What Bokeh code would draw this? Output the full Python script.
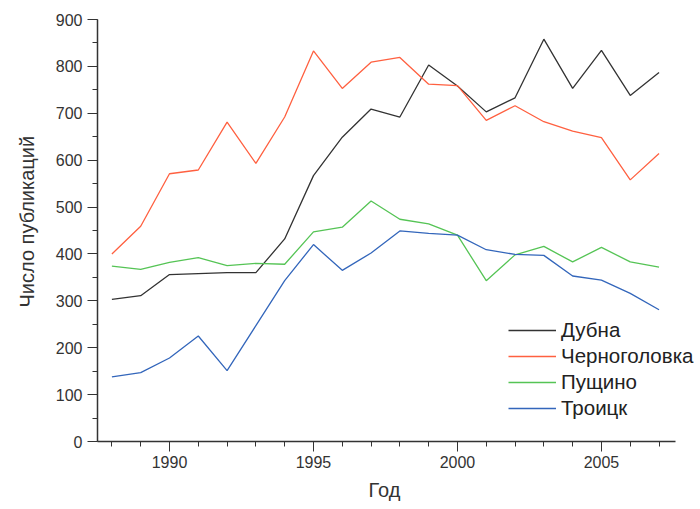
from bokeh.plotting import figure
from bokeh.models import Range1d, Legend, LegendItem, FixedTicker, Title
from bokeh.embed import file_html
from bokeh.resources import INLINE

years = list(range(1988, 2008))
dubna = [303, 311, 356, 358, 360, 360, 432, 567, 649, 709,
         692, 803, 758, 703, 733, 858, 753, 834, 738, 787]
chernogolovka = [400, 459, 571, 579, 681, 593, 692, 833, 753, 809,
                 819, 762, 759, 685, 716, 682, 662, 648, 558, 614]
pushchino = [374, 367, 382, 392, 375, 380, 378, 447, 457, 513,
             474, 464, 440, 343, 398, 416, 383, 414, 383, 372]
troitsk = [138, 147, 178, 225, 151, 247, 343, 420, 365, 402,
           449, 444, 440, 409, 399, 397, 353, 344, 316, 281]

names = ["Дубна", "Черноголовка", "Пущино", "Троицк"]
colors = ["#333333", "#FF6040", "#55C455", "#3366BB"]
series = [dubna, chernogolovka, pushchino, troitsk]

x_ticks = [1990, 1995, 2000, 2005]
y_ticks = [0, 100, 200, 300, 400, 500, 600, 700, 800, 900]

FONT = "Liberation Sans"
INK = "#333333"

# the frame runs to the right edge so the legend text is not clipped;
# the x axis itself stops just after 2007
p = figure(width=700, height=509, output_backend="svg", toolbar_location=None,
           x_range=Range1d(1987.5, 2008.44), y_range=Range1d(0, 900),
           min_border_left=97, min_border_right=0, min_border_top=19,
           min_border_bottom=68, outline_line_color=None,
           background_fill_color="white", border_fill_color="white")
p.grid.visible = False

renderers = []
for vals, col in zip(series, colors):
    r = p.line(years, vals, line_color=col, line_width=1.3)
    renderers.append(r)

for ax in (p.xaxis[0], p.yaxis[0]):
    ax.axis_line_color = INK
    ax.axis_line_width = 1.5
    ax.major_tick_line_color = INK
    ax.minor_tick_line_color = INK
    ax.major_tick_out = 10
    ax.major_tick_in = 0
    ax.minor_tick_out = 5
    ax.minor_tick_in = 0
    ax.major_label_text_font = FONT
    ax.major_label_text_font_size = "16px"
    ax.major_label_text_color = INK

p.xaxis[0].bounds = (1987.5, 2007.57)
p.xaxis[0].ticker = FixedTicker(ticks=x_ticks, minor_ticks=years)
p.yaxis[0].ticker = FixedTicker(ticks=y_ticks,
                                minor_ticks=list(range(0, 901, 50)))
p.xaxis[0].major_label_standoff = 4
p.yaxis[0].major_label_standoff = 5

# axis titles, positioned along the drawn part of each axis
x_title = Title(text="Год", align="left", offset=271, standoff=13,
                text_font=FONT, text_font_size="20px",
                text_font_style="normal", text_color=INK)
y_title = Title(text="Число публикаций", align="left", offset=134, standoff=26,
                vertical_align="top",
                text_font=FONT, text_font_size="20px",
                text_font_style="normal", text_color=INK)
p.add_layout(x_title, "below")
p.add_layout(y_title, "left")

legend = Legend(items=[LegendItem(label=n, renderers=[r])
                       for n, r in zip(names, renderers)],
                location=(411, 21), orientation="vertical",
                label_text_font=FONT, label_text_font_size="20.5px",
                label_text_color="#222222", glyph_width=48, glyph_height=20,
                label_standoff=5, spacing=2, padding=4,
                border_line_color=None, background_fill_alpha=0)
p.add_layout(legend, "center")

open("out.html", "w").write(file_html(p, INLINE))
